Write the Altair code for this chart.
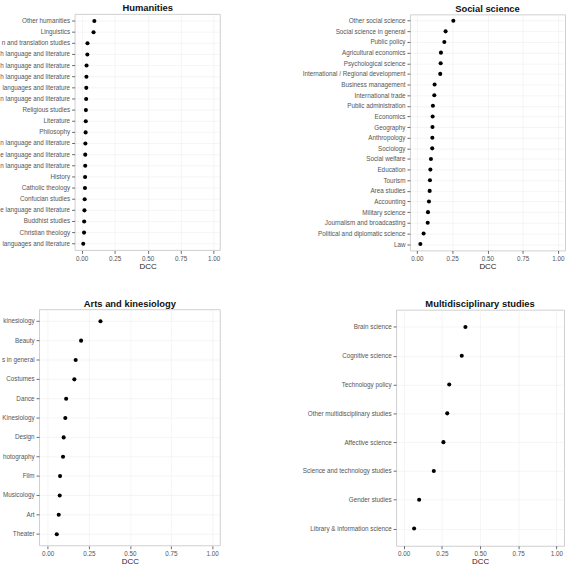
import altair as alt
import pandas as pd

# ---- data: field names (top to bottom) and their DCC values ----
hum_fields = [
    "Other humanities", "Linguistics", "Interpretation and translation studies",
    "English language and literature", "French language and literature",
    "Spanish language and literature", "Other European languages and literature",
    "German language and literature", "Religious studies", "Literature", "Philosophy",
    "Russian language and literature", "Chinese language and literature",
    "Korean language and literature", "History", "Catholic theology",
    "Confucian studies", "Japanese language and literature", "Buddhist studies",
    "Christian theology", "Classical languages and literature",
]
hum_dcc = [0.096, 0.090, 0.044, 0.043, 0.037, 0.036, 0.035, 0.034, 0.032, 0.031,
           0.030, 0.028, 0.027, 0.027, 0.026, 0.025, 0.023, 0.021, 0.019, 0.018, 0.012]

soc_fields = [
    "Other social science", "Social science in general", "Public policy",
    "Agricultural economics", "Psychological science",
    "International / Regional development", "Business management",
    "International trade", "Public administration", "Economics", "Geography",
    "Anthropology", "Sociology", "Social welfare", "Education", "Tourism",
    "Area studies", "Accounting", "Military science", "Journalism and broadcasting",
    "Political and diplomatic science", "Law",
]
soc_dcc = [0.258, 0.203, 0.194, 0.170, 0.168, 0.165, 0.125, 0.123, 0.113, 0.111, 0.110,
           0.109, 0.108, 0.099, 0.095, 0.092, 0.090, 0.085, 0.078, 0.076, 0.047, 0.024]

art_fields = [
    "Other arts and physical kinesiology", "Beauty", "Arts in general", "Costumes",
    "Dance", "Kinesiology", "Design", "Photography", "Film", "Musicology", "Art",
    "Theater",
]
art_dcc = [0.321, 0.203, 0.170, 0.162, 0.112, 0.107, 0.097, 0.093, 0.075, 0.073,
           0.067, 0.055]

multi_fields = [
    "Brain science", "Cognitive science", "Technology policy",
    "Other multidisciplinary studies", "Affective science",
    "Science and technology studies", "Gender studies",
    "Library & information science",
]
multi_dcc = [0.404, 0.380, 0.298, 0.285, 0.260, 0.197, 0.101, 0.068]

x_ticks = [0.0, 0.25, 0.5, 0.75, 1.0]

FONT = "Liberation Sans"
LABEL_SIZE = 6.4
LABEL_COLOR = "#555555"
BORDER = "#cfcfcf"
GRID = "#eeeeee"
TICK = "#444444"
PANEL_H = 239
X_DOMAIN = [-0.05, 1.05]


def x_axis():
    return alt.Axis(values=x_ticks, format=".2f", labelFlush=False)


def dot_panel(title, fields, values, width):
    """Dot plot with an ordinary left axis."""
    df = pd.DataFrame({"field": fields, "dcc": values})
    return alt.Chart(df).mark_circle(size=17, color="black", opacity=1).encode(
        x=alt.X("dcc:Q", title="DCC",
                scale=alt.Scale(domain=X_DOMAIN, nice=False, zero=False),
                axis=x_axis()),
        y=alt.Y("field:N", sort=fields, title=None,
                scale=alt.Scale(type="point", padding=0.6),
                axis=alt.Axis(labelLimit=300)),
    ).properties(width=width, height=PANEL_H,
                 title=alt.TitleParams(title, frame="group"))


def cut_label_panel(title, fields, values, width, inset, label_room):
    """Dot plot whose frame starts `inset` px into the view; the field names
    keep only their right-most `label_room` px (cut off on the left)."""
    df = pd.DataFrame({"field": fields, "dcc": values})
    yscale = alt.Scale(type="point", padding=0.6)
    y = alt.Y("field:N", sort=fields, title=None, scale=yscale, axis=None)
    base = alt.Chart(df)

    frame = alt.Chart(pd.DataFrame({"k": [0]})).mark_rect(
        filled=False, stroke=BORDER, strokeWidth=1,
    ).encode(x=alt.value(inset), x2=alt.value(width),
             y=alt.value(0), y2=alt.value(PANEL_H))
    hgrid = base.mark_rule(color=GRID, strokeWidth=0.6).encode(
        x=alt.value(inset), x2=alt.value(width), y=y)
    ticks = base.mark_rule(color=TICK, strokeWidth=0.8).encode(
        x=alt.value(inset - 3), x2=alt.value(inset), y=y)
    dots = base.mark_circle(size=17, color="black", opacity=1).encode(
        x=alt.X("dcc:Q", title="DCC",
                scale=alt.Scale(domain=X_DOMAIN, range=[inset, width],
                                nice=False, zero=False),
                axis=x_axis()),
        y=y,
    )
    names = base.mark_text(
        align="right", baseline="middle", dir="rtl", limit=label_room,
        ellipsis="\u200b", font=FONT, fontSize=LABEL_SIZE, color=LABEL_COLOR,
    ).encode(x=alt.value(inset - 5), y=y, text="field:N")

    return alt.layer(hgrid, dots, frame, ticks, names).properties(
        width=width, height=PANEL_H,
        view=alt.ViewBackground(stroke=None),
        title=alt.TitleParams(title, frame="group", dx=inset / 2),
    )


LEFT_W = 183
panels = [
    cut_label_panel("Humanities", hum_fields, hum_dcc, LEFT_W, inset=36, label_room=71),
    dot_panel("Social science", soc_fields, soc_dcc, 157),
    cut_label_panel("Arts and kinesiology", art_fields, art_dcc, LEFT_W, inset=0,
                    label_room=34),
    dot_panel("Multidisciplinary studies", multi_fields, multi_dcc, 170),
]

# 2 x 2 grid; columns flow freely so each row keeps its own label width
chart = alt.concat(
    *panels, columns=2,
    align=alt.RowColLayoutAlign(row="each", column="none"),
    spacing=alt.RowColnumber(row=28, column=81),
).properties(
    padding={"left": 0, "top": 0, "right": 0, "bottom": 0},
    background="white",
).configure_view(
    stroke=BORDER, strokeWidth=1, fill="white",
).configure_axis(
    domain=False,
    grid=True, gridColor=GRID, gridWidth=0.6,
    ticks=True, tickColor=TICK, tickSize=3, tickWidth=0.8,
    labelFont=FONT, labelFontSize=LABEL_SIZE, labelColor=LABEL_COLOR, labelPadding=2,
    titleFont=FONT, titleFontSize=8, titleFontWeight="normal", titleColor="#222222",
    titlePadding=1,
).configure_title(
    font=FONT, fontSize=9.5, fontWeight="bold", color="#111111", offset=1,
    anchor="middle",
)

chart.save("out.html", embed_options={"renderer": "svg", "actions": False})
